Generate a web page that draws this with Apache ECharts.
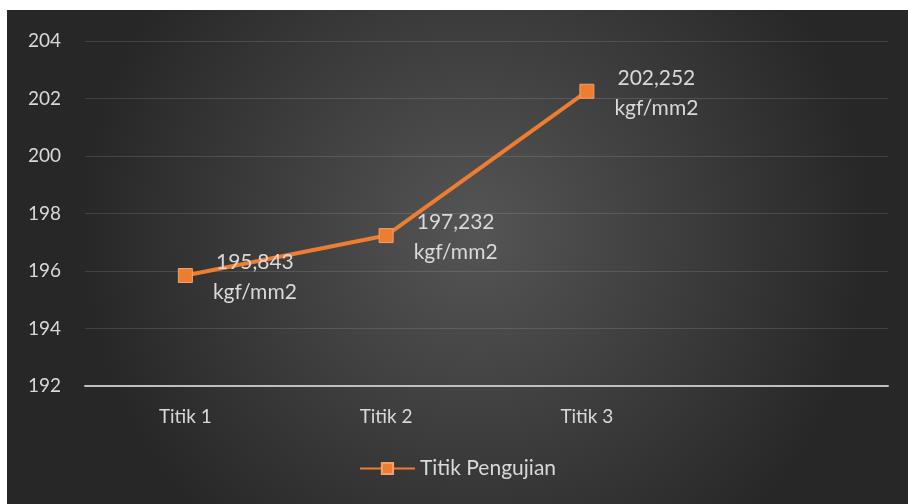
<!DOCTYPE html>
<html>
<head>
<meta charset="utf-8">
<script src="https://cdn.jsdelivr.net/npm/echarts@6/dist/echarts.min.js"></script>
<style>
  html, body { margin: 0; padding: 0; background: #ffffff; }
  #chart { position: absolute; left: 7px; top: 10px; width: 901px; height: 494px; }
</style>
</head>
<body>
<div id="chart"></div>
<script>
// Test points (the fourth slot is an empty category, as in the original sheet)
const categories = ['Titik 1', 'Titik 2', 'Titik 3', ''];
const hardness = [195.843, 197.232, 202.252];
const seriesName = 'Titik Pengujian';
const unit = 'kgf/mm2';
const yTicks = { min: 192, max: 204, step: 2 };

const textColor = '#d9d9d9';
const fontFamily = 'Lato, "Open Sans", sans-serif';
const orange = '#ED7D31';

const chart = echarts.init(document.getElementById('chart'));

chart.setOption({
  backgroundColor: {
    type: 'radial', x: 0.52, y: 0.45, r: 0.8,
    colorStops: [
      { offset: 0, color: '#555555' },
      { offset: 1, color: '#272727' }
    ]
  },
  textStyle: { fontFamily: fontFamily },
  animation: false,
  grid: { left: 78, right: 20, top: 31, bottom: 118 },
  legend: {
    data: [seriesName],
    bottom: 20,
    left: 'center',
    itemWidth: 55,
    itemHeight: 14,
    itemGap: 6,
    textStyle: { color: textColor, fontSize: 21, fontFamily: fontFamily }
  },
  xAxis: {
    type: 'category',
    data: categories,
    boundaryGap: true,
    axisLine: { lineStyle: { color: '#bfbfbf', width: 2 } },
    axisTick: { show: false },
    axisLabel: { color: textColor, fontSize: 19, margin: 21 }
  },
  yAxis: {
    type: 'value',
    min: yTicks.min,
    max: yTicks.max,
    interval: yTicks.step,
    axisLine: { show: false },
    axisTick: { show: false },
    axisLabel: { color: textColor, fontSize: 19, margin: 24 },
    splitLine: { lineStyle: { color: 'rgba(255,255,255,0.12)', width: 1 } }
  },
  series: [
    {
      // orange outline of the line
      name: seriesName,
      type: 'line',
      data: hardness,
      symbol: 'rect',
      symbolSize: 14,
      lineStyle: { color: orange, width: 4 },
      itemStyle: { color: orange, borderColor: '#f4a06a', borderWidth: 1 },
      label: {
        show: true,
        position: 'right',
        distance: 0,
        align: 'center',
        offset: [62, 2],
        color: textColor,
        fontSize: 21,
        lineHeight: 30,
        fontFamily: fontFamily,
        formatter: p => p.value.toFixed(3).replace('.', ',') + '\n' + unit
      },
      z: 2
    },
    {
      // light core of the line
      name: seriesName + ' ',
      type: 'line',
      data: hardness,
      symbol: 'none',
      lineStyle: { color: '#f8c8a0', width: 1.5 },
      silent: true,
      z: 1
    }
  ]
});
</script>
</body>
</html>
